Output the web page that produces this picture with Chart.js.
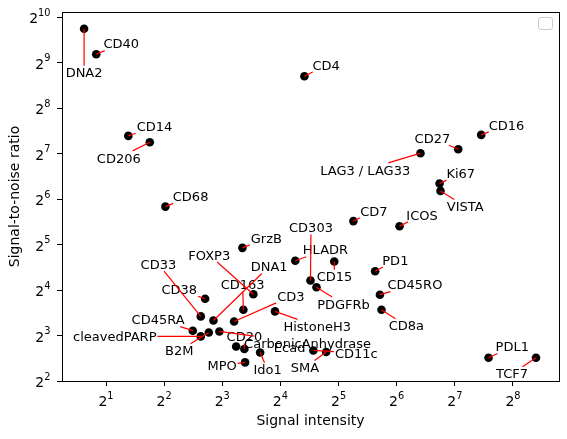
<!DOCTYPE html>
<html>
<head>
<meta charset="utf-8">
<script src="https://cdn.jsdelivr.net/npm/chart.js@4.4.1/dist/chart.umd.min.js"></script>
<style>
  html, body { margin: 0; padding: 0; background: #fff; }
  #wrap { width: 567px; height: 439px; }
</style>
</head>
<body>
<div id="wrap"><canvas id="chart" width="567" height="439"></canvas></div>
<script>
// marker names, signal intensity and signal-to-noise ratio
const markers = [
  "DNA2", "CD40", "CD14", "CD206", "CD68", "CD4", "LAG3 / LAG33", "CD27", "CD16", "Ki67",
  "VISTA", "ICOS", "CD7", "PD1", "CD45RO", "CD8a", "PDL1", "TCF7", "CD303", "HLADR",
  "CD15", "PDGFRb", "GrzB", "FOXP3", "DNA1", "CD163", "CD3", "HistoneH3", "CD38", "CD33",
  "CD45RA", "cleavedPARP", "B2M", "CarbonicAnhydrase", "CD20", "Ecad", "Ido1", "MPO", "CD11c", "SMA"
];
const signal = [
  1.54, 1.78, 2.61, 3.37, 4.06, 21.3, 85.0, 133.3, 175.3, 106.7,
  107.9, 66.2, 38.2, 49.5, 52.4, 53.4, 191.3, 336.9, 22.9, 19.1,
  30.4, 24.6, 10.17, 11.59, 7.20, 10.29, 9.21, 15.0, 6.52, 6.19,
  5.63, 6.19, 6.81, 7.73, 10.41, 9.44, 12.56, 10.50, 23.7, 27.6
];
const snr = [
  856.7, 580.4, 167.4, 152.1, 57.0, 415.3, 128.6, 136.7, 170.0, 81.0,
  72.4, 42.3, 45.7, 21.3, 14.9, 11.84, 5.70, 5.70, 18.5, 25.0,
  24.7, 16.7, 30.4, 15.0, 10.06, 11.84, 9.91, 11.55, 14.0, 10.70,
  8.61, 7.89, 8.38, 8.51, 6.51, 6.77, 6.18, 5.31, 6.37, 6.22
];
// tick exponents (labels drawn as 2^n)
const xTickExp = [1, 2, 3, 4, 5, 6, 7, 8];
const yTickExp = [2, 3, 4, 5, 6, 7, 8, 9, 10];

// label centre offset from its point, in pixels
const labelOffsets = [
  [0, 44], [25, -10.6], [26.2, -9.3], [-31, 15.7], [25.2, -10.2], [21.7, -11.3], [-55.3, 16.7], [-25.8, -11], [25.3, -10], [21.2, -10.4],
  [24.7, 15.7], [22.5, -11.3], [20.5, -10.3], [20.2, -11.3], [35, -10], [24.9, 16], [23.7, -11.3], [-24, 16], [0.5, -53], [30.2, -11],
  [0.2, 15.3], [27, 16.7], [23.9, -9.7], [-44.1, -39.3], [55.7, -54], [-0.8, -25], [56.8, -25], [42.2, 15], [-25.8, -9], [-42.4, -52.4],
  [-34.7, -11], [-86, 0], [-29.5, 18.3], [88.2, 11.6], [0, -12.6], [53.5, 1], [7.5, 17.3], [-23, 3], [42.9, 2.6], [-21.2, 15.4]
];
const noLeader = ["Ecad"];

const points = signal.map((s, i) => ({ x: Math.log2(s), y: Math.log2(snr[i]) }));

function drawPow(ctx, exp, x, y, align) {
  ctx.font = '14px "DejaVu Sans"';
  const wb = ctx.measureText("2").width;
  ctx.font = '9.8px "DejaVu Sans"';
  const we = ctx.measureText(String(exp)).width;
  const x0 = align === "center" ? x - (wb + we) / 2 : x - (wb + we);
  ctx.font = '14px "DejaVu Sans"';
  ctx.fillText("2", x0, y);
  ctx.font = '9.8px "DejaVu Sans"';
  ctx.fillText(String(exp), x0 + wb, y - 7.2);
}

const decorations = {
  id: "decorations",
  afterDatasetsDraw(chart) {
    const ctx = chart.ctx;
    const area = chart.chartArea;
    const meta = chart.getDatasetMeta(0);
    ctx.save();
    ctx.fillStyle = "#000";
    ctx.textBaseline = "alphabetic";
    ctx.textAlign = "left";

    // labels
    ctx.font = '13px "DejaVu Sans"';
    const leaders = [];
    meta.data.forEach((pt, i) => {
      const [dx, dy] = labelOffsets[i];
      const cx = pt.x + dx, cy = pt.y + dy;
      const w = ctx.measureText(markers[i]).width;
      ctx.fillText(markers[i], cx - w / 2, cy + 4.7);
      if (noLeader.includes(markers[i])) return;
      const vx = pt.x - cx, vy = pt.y - cy;
      const hw = w / 2 + 1, hh = 7;
      const t = Math.min(vx ? hw / Math.abs(vx) : Infinity, vy ? hh / Math.abs(vy) : Infinity);
      if (t < 1) leaders.push([cx + vx * t, cy + vy * t, pt.x, pt.y]);
    });

    // leader lines
    ctx.strokeStyle = "#ff0000";
    ctx.lineWidth = 1.2;
    leaders.forEach(([x1, y1, x2, y2]) => {
      ctx.beginPath();
      ctx.moveTo(x1, y1);
      ctx.lineTo(x2, y2);
      ctx.stroke();
    });

    // frame
    ctx.strokeStyle = "#000";
    ctx.lineWidth = 1;
    ctx.strokeRect(Math.round(area.left) + 0.5, Math.round(area.top) + 0.5,
      Math.round(area.right - area.left), Math.round(area.bottom - area.top));

    // empty legend box
    ctx.strokeStyle = "#cccccc";
    ctx.beginPath();
    ctx.roundRect(Math.round(area.right) - 20.5, Math.round(area.top) + 5.5, 14, 12, 2.5);
    ctx.stroke();

    // tick labels
    ctx.fillStyle = "#000";
    const xs = chart.scales.x, ys = chart.scales.y;
    xTickExp.forEach(e => drawPow(ctx, e, xs.getPixelForValue(e), area.bottom + 25.4, "center"));
    yTickExp.forEach(e => drawPow(ctx, e, 50.5, ys.getPixelForValue(e) + 6, "right"));
    ctx.restore();
  }
};

const axisFont = { family: "DejaVu Sans", size: 14 };

new Chart(document.getElementById("chart"), {
  type: "scatter",
  data: {
    datasets: [{
      data: points,
      backgroundColor: "#000",
      borderWidth: 0,
      pointRadius: 4.3,
      pointHoverRadius: 4.3
    }]
  },
  options: {
    responsive: false,
    animation: false,
    layout: { padding: { top: 12, right: 8, left: 0, bottom: 0 } },
    plugins: { legend: { display: false }, tooltip: { enabled: false } },
    scales: {
      x: {
        type: "linear",
        min: 0.243,
        max: 8.792,
        afterBuildTicks: s => { s.ticks = xTickExp.map(v => ({ value: v })); },
        afterFit: s => { s.height = 58; },
        ticks: { display: false },
        grid: { drawOnChartArea: false, drawTicks: true, tickLength: 5, color: "#000", lineWidth: 1 },
        border: { display: true, color: "#000", width: 1 },
        title: { display: true, text: "Signal intensity", color: "#000", font: axisFont, padding: { top: 0, bottom: 9 } }
      },
      y: {
        type: "linear",
        min: 2,
        max: 10.11,
        afterBuildTicks: s => { s.ticks = yTickExp.map(v => ({ value: v })); },
        afterFit: s => { s.width = 62; },
        ticks: { display: false },
        grid: { drawOnChartArea: false, drawTicks: true, tickLength: 5, color: "#000", lineWidth: 1 },
        border: { display: true, color: "#000", width: 1 },
        title: { display: true, text: "Signal-to-noise ratio", color: "#000", font: axisFont, padding: { top: 7, bottom: 0 } }
      }
    }
  },
  plugins: [decorations]
});
</script>
</body>
</html>
